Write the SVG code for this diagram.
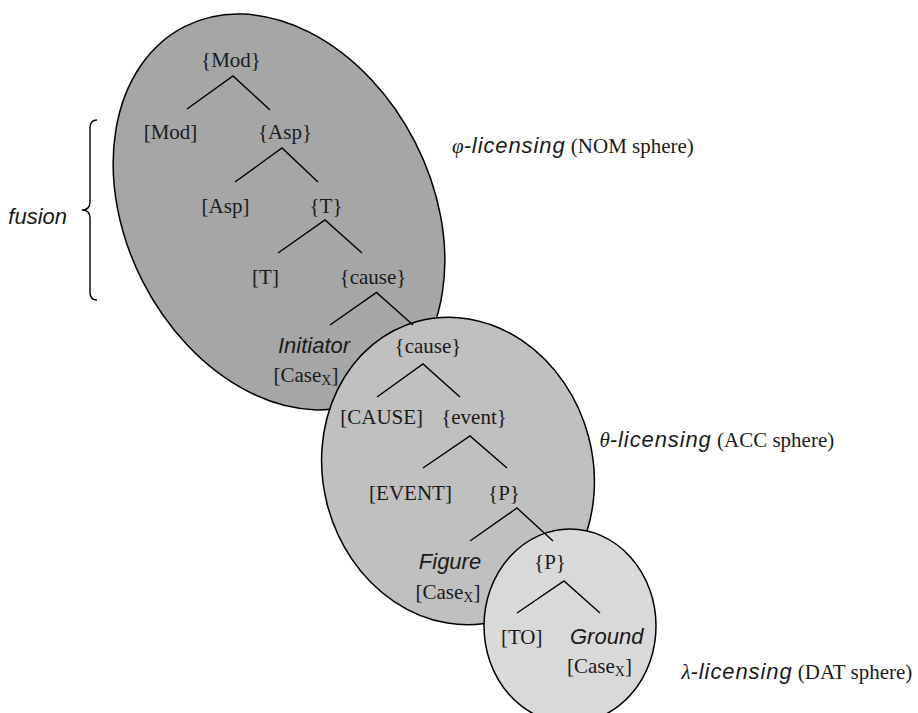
<svg xmlns="http://www.w3.org/2000/svg" width="918" height="713" viewBox="0 0 918 713">
<style>
.sph{stroke:#000;stroke-width:1.5}
.s{font-family:"Liberation Serif",serif;font-size:21px;fill:#1a1a1a;text-anchor:middle}
.i{font-family:"Liberation Sans",sans-serif;font-style:italic;font-size:22px;fill:#1a1a1a;text-anchor:middle}
.lab{font-family:"Liberation Serif",serif;font-size:21px;fill:#1a1a1a}
.gi{font-family:"Liberation Serif",serif;font-style:italic}
.si{font-family:"Liberation Sans",sans-serif;font-style:italic;font-size:22px;letter-spacing:0.9px}
.sub{font-size:14px}
.ln{stroke:#000;stroke-width:1.4;fill:none}
</style>
<rect width="918" height="713" fill="#fff"/>
<g id="spheres">
<ellipse id="nom-sphere" class="sph" fill="#a6a6a6" cx="279" cy="212" rx="153" ry="208" transform="rotate(-27 279 212)"/>
<ellipse id="acc-sphere" class="sph" fill="#c0c0c0" cx="458" cy="471" rx="135" ry="155" transform="rotate(-15 458 471)"/>
<ellipse id="dat-sphere" class="sph" fill="#d9d9d9" cx="570" cy="626" rx="86" ry="97"/>
</g>
<g id="connectors" class="ln">
<path d="M187 109 L233 76 L270 110"/>
<path d="M235 182 L282 148 L318 182"/>
<path d="M278 253 L325 220 L362 253"/>
<path d="M330 325 L376.5 292.5 L413 325"/>
<path d="M377 397 L423 364 L460 397"/>
<path d="M423 468 L470 436 L507 468"/>
<path d="M470 541 L517 508 L553 541"/>
<path d="M517 613 L564 581 L600 613"/>
</g>
<g id="n-mod"><text class="s" x="231" y="67">{Mod}</text></g>
<g id="n-modh"><text class="s" x="170.5" y="139">[Mod]</text></g>
<g id="n-asp"><text class="s" x="285" y="139">{Asp}</text></g>
<g id="n-asph"><text class="s" x="225.5" y="212.5">[Asp]</text></g>
<g id="n-t"><text class="s" x="326" y="212.5">{T}</text></g>
<g id="n-th"><text class="s" x="265.5" y="284">[T]</text></g>
<g id="n-cause1"><text class="s" x="373" y="284">{cause}</text></g>
<g id="n-initiator"><text class="i" x="314" y="353">Initiator</text><text class="s" x="306" y="382">[Case<tspan class="sub" dy="3">X</tspan><tspan dy="-3">]</tspan></text></g>
<g id="n-cause2"><text class="s" x="428" y="353">{cause}</text></g>
<g id="n-causeh"><text class="s" x="381.7" y="424">[CAUSE]</text></g>
<g id="n-event"><text class="s" x="474" y="424">{event}</text></g>
<g id="n-eventh"><text class="s" x="410.5" y="499.5">[EVENT]</text></g>
<g id="n-p1"><text class="s" x="504" y="499.5">{P}</text></g>
<g id="n-figure"><text class="i" x="450" y="568.5">Figure</text><text class="s" x="448" y="598.5">[Case<tspan class="sub" dy="3">X</tspan><tspan dy="-3">]</tspan></text></g>
<g id="n-p2"><text class="s" x="550" y="568.5">{P}</text></g>
<g id="n-to"><text class="s" x="521.7" y="643.5">[TO]</text></g>
<g id="n-ground"><text class="i" x="606.7" y="643.5">Ground</text><text class="s" x="599.5" y="672.5">[Case<tspan class="sub" dy="3">X</tspan><tspan dy="-3">]</tspan></text></g>
<g id="labels">
<text class="lab" x="452" y="153"><tspan class="gi">φ</tspan><tspan class="si">-licensing</tspan> (NOM sphere)</text>
<text class="lab" x="599.5" y="447"><tspan class="gi">θ</tspan><tspan class="si">-licensing</tspan> (ACC sphere)</text>
<text class="lab" x="681.5" y="678.5"><tspan class="gi">λ</tspan><tspan class="si">-licensing</tspan> (DAT sphere)</text>
</g>
<g id="fusion">
<text class="i" x="67" y="224" style="text-anchor:end">fusion</text>
<path class="ln" d="M97 120 Q90 120 90 128 L90 202 Q90 210 82 210 Q90 210 90 218 L90 292 Q90 300 97 300"/>
</g>
</svg>
